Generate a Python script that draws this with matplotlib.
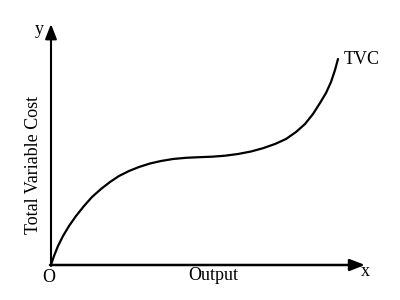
import matplotlib.pyplot as plt

# TVC curve (pixel units from the origin)
output = [0, 3, 7, 12, 18, 25, 33, 41, 50, 59, 68, 78, 88, 99, 110, 122, 135, 148, 161, 174,
          187, 200, 212, 224, 235, 245, 254, 262, 269, 275, 280, 284, 287]
tvc = [0, 9, 19, 29, 39, 49, 59, 68, 76, 83, 89, 94, 98, 101.5, 104, 106, 107.2, 107.8, 108.3, 109.3,
       111, 113.5, 116.8, 121, 126, 133, 141, 151, 162, 172, 183, 195, 206]

plt.rcParams['font.family'] = ['Liberation Serif', 'DejaVu Serif']

fig = plt.figure(figsize=(4, 3), dpi=100)
ax = fig.add_axes([0, 0, 1, 1])
ax.set_xlim(-51, 349)
ax.set_ylim(-35, 265)
ax.axis('off')

# axes with arrow heads
ax.annotate('', xy=(314, 0), xytext=(-1, 0),
            arrowprops=dict(arrowstyle='-|>,head_length=0.9,head_width=0.35', lw=1.8, color='black',
                            shrinkA=0, shrinkB=0))
ax.annotate('', xy=(0, 241), xytext=(0, -1),
            arrowprops=dict(arrowstyle='-|>,head_length=0.9,head_width=0.35', lw=1.5, color='black',
                            shrinkA=0, shrinkB=0))

ax.plot(output, tvc, color='black', lw=1.6, solid_capstyle='round', solid_joinstyle='round')

ax.text(293, 205, 'TVC', fontsize=13, ha='left', va='center')
ax.text(162, -10, 'Output', fontsize=13, ha='center', va='center')
ax.text(-18, 100, 'Total Variable Cost', fontsize=13, rotation=90, ha='center', va='center')
ax.text(-2, -12, 'O', fontsize=13, ha='center', va='center')
ax.text(314, -7, 'x', fontsize=13, ha='center', va='center')
ax.text(-12, 235, 'y', fontsize=13, ha='center', va='center')

fig.savefig('out.png', dpi=100)
